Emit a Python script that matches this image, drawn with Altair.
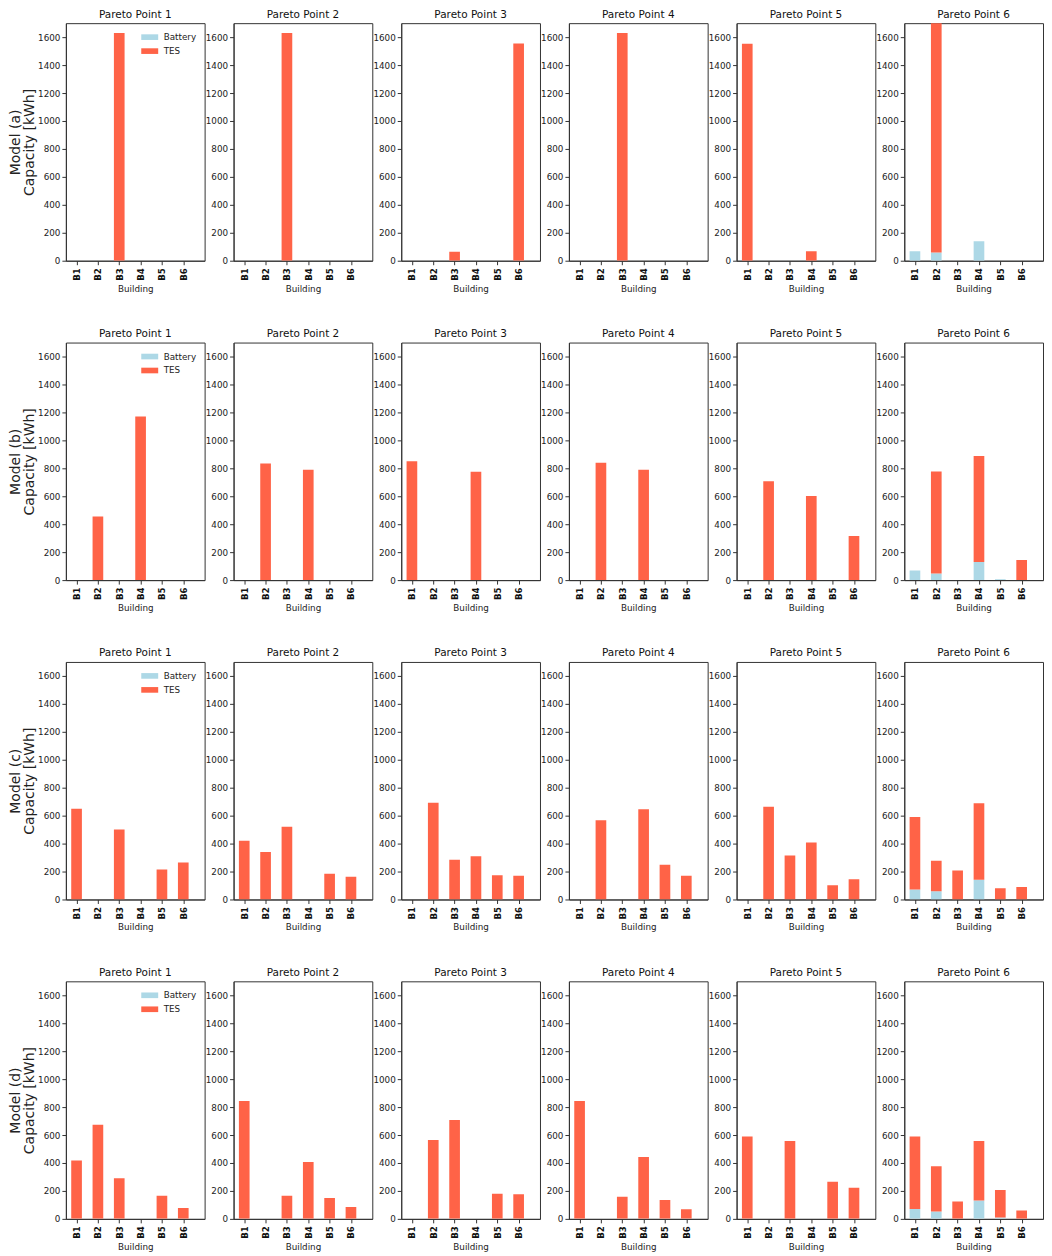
import altair as alt
import pandas as pd

buildings = ["B1", "B2", "B3", "B4", "B5", "B6"]
models = ["(a)", "(b)", "(c)", "(d)"]
pareto_points = [1, 2, 3, 4, 5, 6]
storage_types = ["Battery", "TES"]
storage_colors = ["#ADD8E6", "#FF6347"]

# TES capacity [kWh], one list per Pareto point, values for B1..B6
tes_a = [
    [0, 0, 1630, 0, 0, 0],
    [0, 0, 1630, 0, 0, 0],
    [0, 0, 65, 0, 0, 1555],
    [0, 0, 1630, 0, 0, 0],
    [1552, 0, 0, 68, 0, 0],
    [0, 1700, 0, 0, 0, 0],
]
battery_a = [
    [0, 0, 0, 0, 0, 0],
    [0, 0, 0, 0, 0, 0],
    [0, 0, 0, 0, 0, 0],
    [0, 0, 0, 0, 0, 0],
    [0, 0, 0, 0, 0, 0],
    [68, 59, 0, 139, 0, 0],
]

tes_b = [
    [0, 455, 0, 1170, 0, 0],
    [0, 835, 0, 790, 0, 0],
    [850, 0, 0, 775, 0, 0],
    [0, 840, 0, 790, 0, 0],
    [0, 708, 0, 601, 0, 315],
    [0, 731, 0, 758, 0, 144],
]
battery_b = [
    [0, 0, 0, 0, 0, 0],
    [0, 0, 0, 0, 0, 0],
    [0, 0, 0, 0, 0, 0],
    [0, 0, 0, 0, 0, 0],
    [0, 0, 0, 0, 0, 0],
    [69, 47, 0, 130, 6, 0],
]

tes_c = [
    [650, 0, 501, 0, 215, 265],
    [421, 340, 520, 0, 184, 163],
    [0, 693, 284, 310, 173, 170],
    [0, 567, 0, 645, 248, 170],
    [0, 664, 314, 407, 102, 144],
    [520, 218, 208, 546, 80, 90],
]
battery_c = [
    [0, 0, 0, 0, 0, 0],
    [0, 0, 0, 0, 0, 0],
    [0, 0, 0, 0, 0, 0],
    [0, 0, 0, 0, 0, 0],
    [0, 0, 0, 0, 0, 0],
    [71, 59, 0, 142, 0, 0],
]

tes_d = [
    [418, 674, 291, 0, 165, 78],
    [844, 0, 165, 407, 149, 85],
    [0, 565, 707, 0, 180, 177],
    [844, 0, 158, 442, 135, 69],
    [589, 0, 558, 0, 265, 222],
    [518, 324, 125, 426, 197, 59],
]
battery_d = [
    [0, 0, 0, 0, 0, 0],
    [0, 0, 0, 0, 0, 0],
    [0, 0, 0, 0, 0, 0],
    [0, 0, 0, 0, 0, 0],
    [0, 0, 0, 0, 0, 0],
    [71, 52, 0, 132, 9, 0],
]

tes_all = [tes_a, tes_b, tes_c, tes_d]
battery_all = [battery_a, battery_b, battery_c, battery_d]

rows = []
for mi, m in enumerate(models):
    for pi, p in enumerate(pareto_points):
        for bi, b in enumerate(buildings):
            bat = battery_all[mi][pi][bi]
            tes = tes_all[mi][pi][bi]
            if bat > 0:
                rows.append(dict(model=m, pareto=p, idx=bi, type="Battery", y0=0, y1=bat))
            if tes > 0:
                rows.append(dict(model=m, pareto=p, idx=bi, type="TES", y0=bat, y1=bat + tes))
df = pd.DataFrame(rows)

FONT = "DejaVu Sans"
Y_TICKS = list(range(0, 1601, 200))


def panel(mi, pi):
    first = pi == 0
    m = models[mi]
    p = pareto_points[pi]
    if first:
        legend = alt.Legend(
            title=None,
            orient="top-right",
            offset=6,
            labelFontSize=8.8,
            labelFont=FONT,
            labelColor="#222",
            symbolType="M-1.5,-0.5L1.5,-0.5L1.5,0.5L-1.5,0.5Z",
            symbolSize=128,
            symbolStrokeWidth=0,
            symbolOpacity=1,
            rowPadding=3,
            labelOffset=8,
            padding=2,
        )
        y_axis = alt.Axis(
            title=["Model " + m, "Capacity [kWh]"],
            values=Y_TICKS,
            format="d",
            titleFontSize=14,
            titleLineHeight=14,
            titlePadding=1,
        )
    else:
        legend = None
        y_axis = alt.Axis(title=None, values=Y_TICKS, format="d")
    return (
        alt.Chart(df)
        .transform_filter((alt.datum.model == m) & (alt.datum.pareto == p))
        .transform_calculate(xa="datum.idx - 0.25", xb="datum.idx + 0.25")
        .mark_bar(clip=True)
        .encode(
            x=alt.X(
                "xa:Q",
                scale=alt.Scale(domain=[-0.5, 6], nice=False, zero=False),
                axis=alt.Axis(
                    values=[0, 1, 2, 3, 4, 5],
                    labelExpr="'B' + (datum.value + 1)",
                    labelAngle=270,
                    labelFontWeight="bold",
                    labelFontSize=8.6,
                    labelColor="#111",
                    labelPadding=3,
                    title="Building",
                    titleFontSize=8.8,
                    titlePadding=4,
                ),
            ),
            x2="xb:Q",
            y=alt.Y("y0:Q", scale=alt.Scale(domain=[0, 1700], nice=False), axis=y_axis),
            y2="y1:Q",
            color=alt.Color(
                "type:N",
                scale=alt.Scale(domain=storage_types, range=storage_colors),
                legend=legend,
            ),
        )
        .properties(width=139, height=238, title=f"Pareto Point {p}")
    )


panels = [panel(mi, pi) for mi in range(len(models)) for pi in range(len(pareto_points))]

chart = (
    alt.concat(*panels, columns=6, spacing={"row": 82, "column": 29}, bounds="flush")
    .resolve_legend(color="independent")
    .properties(padding=0)
    .configure_view(stroke="#333", strokeWidth=1)
    .configure_axis(
        grid=False,
        domainColor="#333",
        tickColor="#333",
        tickSize=4,
        labelColor="#222",
        labelFont=FONT,
        labelFontSize=8.8,
        labelPadding=2,
        titleFont=FONT,
        titleColor="#222",
        titleFontWeight="normal",
    )
    .configure_title(font=FONT, fontSize=10.5, fontWeight="normal", color="#111", offset=3)
)

chart.save("out.html", embed_options={"renderer": "svg", "actions": False})
